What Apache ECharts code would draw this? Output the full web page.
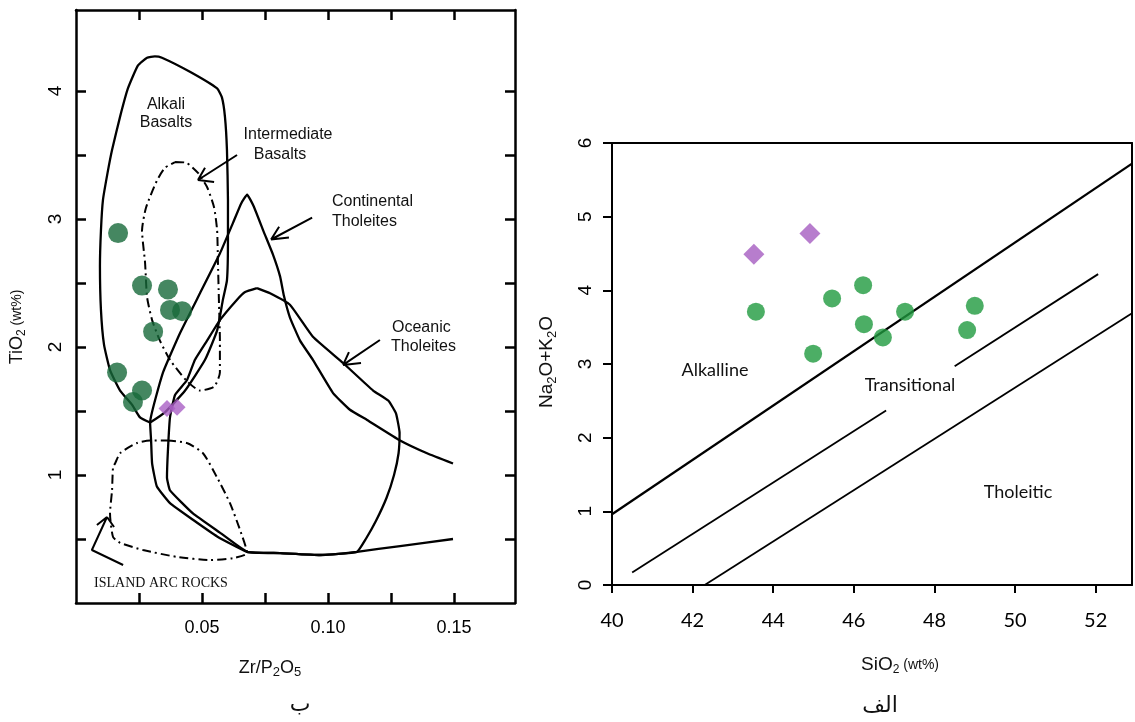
<!DOCTYPE html>
<html lang="fa">
<head>
<meta charset="UTF-8">
<title>TiO2 - Zr/P2O5 , Na2O+K2O - SiO2</title>
<script src="https://cdn.jsdelivr.net/npm/echarts@6/dist/echarts.min.js"></script>
<style>
  html, body { margin: 0; padding: 0; background: #fff; }
  #main { width: 1135px; height: 722px; }
</style>
</head>
<body>
<div id="main"></div>
<script>
// ---------- panel ب : TiO2 (wt%) vs Zr/P2O5 ----------
var alkaliBasalts = [
  [0.0294,1.41],[0.0254,1.45],[0.0222,1.55],[0.0175,1.66],[0.0135,1.82],[0.0111,2.02],
  [0.0099,2.29],[0.0095,2.63],[0.0099,2.91],[0.0107,3.15],[0.0127,3.38],[0.0143,3.54],
  [0.0175,3.80],[0.0206,4.02],[0.0246,4.20],[0.0282,4.26],[0.0313,4.27],[0.0341,4.26],
  [0.0452,4.15],[0.0560,4.02],[0.0579,3.95],[0.0591,3.80],[0.0599,3.54],[0.0603,3.15],
  [0.0603,2.84],[0.0599,2.52],[0.0583,2.37],[0.0560,2.13],[0.0512,1.90],[0.0433,1.66],
  [0.0353,1.49],[0.0294,1.41]
];
var continentalTholeiites = [
  [0.1496,1.09],[0.1393,1.17],[0.1286,1.27],[0.1155,1.43],[0.1087,1.51],[0.1020,1.64],
  [0.0940,1.90],[0.0889,2.05],[0.0849,2.23],[0.0825,2.40],[0.0810,2.55],[0.0782,2.72],
  [0.0745,2.90],[0.0705,3.10],[0.0679,3.19],[0.0655,3.12],[0.0623,2.97],[0.0571,2.73],
  [0.0492,2.42],[0.0413,2.11],[0.0345,1.80],[0.0294,1.41],[0.0298,1.27],[0.0302,1.09],
  [0.0321,0.91],[0.0373,0.78],[0.0464,0.65],[0.0560,0.52],[0.0679,0.40],[0.0810,0.39],
  [0.0968,0.375],[0.1115,0.40],[0.1286,0.445],[0.1496,0.50]
];
var oceanicTholeiites = [
  [0.0718,2.46],[0.0770,2.42],[0.0849,2.33],[0.0940,2.08],[0.1060,1.875],[0.1179,1.66],
  [0.1240,1.58],[0.1270,1.48],[0.1284,1.33],[0.1280,1.17],[0.1262,1.00],[0.1232,0.82],
  [0.1190,0.64],[0.1150,0.50],[0.1115,0.40],[0.0968,0.375],[0.0810,0.39],[0.0679,0.40],
  [0.0571,0.55],[0.0464,0.70],[0.0373,0.88],[0.0361,0.98],[0.0365,1.20],[0.0373,1.45],
  [0.0393,1.625],[0.0440,1.74],[0.0472,1.90],[0.0520,2.05],[0.0571,2.21],[0.0639,2.37],
  [0.0671,2.43],[0.0718,2.46]
];
var intermediateBasalts = [
  [0.0393,3.445],[0.0437,3.44],[0.0484,3.36],[0.0520,3.25],[0.0548,3.09],[0.0560,2.91],
  [0.0563,2.68],[0.0567,2.37],[0.0571,2.05],[0.0571,1.80],[0.0548,1.69],[0.0492,1.66],
  [0.0437,1.74],[0.0373,1.90],[0.0333,2.05],[0.0302,2.21],[0.0282,2.39],[0.0274,2.66],
  [0.0262,2.91],[0.0278,3.09],[0.0321,3.30],[0.0353,3.40],[0.0393,3.445]
];
var islandArcRocks = [
  [0.0361,1.27],[0.0440,1.25],[0.0504,1.17],[0.0560,0.98],[0.0611,0.78],[0.0651,0.57],
  [0.0679,0.39],[0.0623,0.35],[0.0532,0.336],[0.0401,0.36],[0.0266,0.414],[0.0175,0.47],
  [0.0147,0.516],[0.0135,0.70],[0.0143,0.88],[0.0147,1.06],[0.0155,1.09],[0.0175,1.17],
  [0.0242,1.25],[0.0294,1.27],[0.0361,1.27]
];
// label arrows (shaft + two barbs)
var arrowIntermediate = [[0.0639,3.50],[0.0484,3.305],[0.0548,3.29],null,[0.0484,3.305],[0.0512,3.40]];
var arrowContinental  = [[0.0937,3.01],[0.0774,2.84],[0.0845,2.855],null,[0.0774,2.84],[0.0806,2.94]];
var arrowOceanic      = [[0.1206,2.055],[0.1060,1.86],[0.1131,1.875],null,[0.1060,1.86],[0.1083,1.96]];
var arrowIslandArc    = [[0.0187,0.297],[0.0063,0.414],[0.0123,0.672],[0.0083,0.61],null,[0.0123,0.672],[0.0151,0.594]];

var zrGreen = [
  [0.0167,2.89],[0.0262,2.48],[0.0365,2.45],[0.0373,2.29],[0.0421,2.28],
  [0.0306,2.12],[0.0163,1.80],[0.0262,1.66],[0.0226,1.57]
];
var zrPurple = [[0.0361,1.52],[0.0401,1.53]];

var zrTicks   = [0.025, 0.05, 0.075, 0.10, 0.125, 0.15];
var zrLabels  = [0.05, 0.10, 0.15];
var tiTicks   = [0.5, 1, 1.5, 2, 2.5, 3, 3.5, 4];
var tiLabels  = [1, 2, 3, 4];

// ---------- panel الف : Na2O+K2O vs SiO2 ----------
var lineAlkaline     = [[40, 0.96], [52.9, 5.72]];
var lineMidLower     = [[40.5, 0.17], [46.8, 2.37]];
var lineMidUpper     = [[48.5, 2.97], [52.06, 4.22]];
var lineTholeiitic   = [[42.3, 0], [52.9, 3.69]];

var siGreen = [
  [43.57,3.71],[45.46,3.89],[46.23,4.07],[46.25,3.54],[46.72,3.36],
  [47.27,3.71],[44.99,3.14],[49.00,3.79],[48.81,3.46]
];
var siPurple = [[43.52,4.49],[44.91,4.77]];

var siTicks  = [40, 42, 44, 46, 48, 50, 52];
var alkTicks = [0, 1, 2, 3, 4, 5, 6];

var dom = document.getElementById('main');
var myChart = echarts.init(dom);

var sans = "'Liberation Sans', Arial, sans-serif";
var calib = "Lato, 'Open Sans', sans-serif";

function frameAxis(grid, pos, min, max, extra) {
  var a = {
    gridIndex: grid, type: 'value', position: pos, min: min, max: max,
    axisLine: { show: true, onZero: false, lineStyle: { color: '#000', width: grid === 0 ? 2.5 : 2 } },
    axisTick: { show: false },
    axisLabel: { show: false },
    splitLine: { show: false }
  };
  for (var k in extra) a[k] = extra[k];
  return a;
}

function poly(name, data, x, y, style, smooth) {
  return {
    name: name, type: 'line', xAxisIndex: x, yAxisIndex: y, data: data,
    symbol: 'none', smooth: smooth || false, connectNulls: false,
    lineStyle: style, silent: true, z: 3
  };
}

var solid = { color: '#000', width: 2.3 };
var dashDot = { color: '#000', width: 2, type: [9, 4, 2, 4] };
var thin = { color: '#000', width: 1.8 };

var leftTickIn = { show: true, inside: true, length: 10, lineStyle: { color: '#000', width: 2.5 } };

option = {
  animation: false,
  backgroundColor: '#fff',
  grid: [
    { left: 76, top: 10, width: 439, height: 593, outerBoundsMode: 'none' },
    { left: 612, top: 143, width: 520, height: 442, outerBoundsMode: 'none' }
  ],
  xAxis: [
    frameAxis(0, 'bottom', 0, 0.1742, {
      axisTick: Object.assign({ customValues: zrTicks }, leftTickIn),
      axisLabel: { show: true, customValues: zrLabels, margin: 16, fontSize: 18, fontFamily: sans, color: '#000',
        formatter: function (v) { return v.toFixed(2); } }
    }),
    frameAxis(0, 'top', 0, 0.1742, { axisTick: Object.assign({ customValues: zrTicks }, leftTickIn) }),
    frameAxis(1, 'bottom', 40, 52.9, {
      axisTick: { show: true, inside: false, length: 8, customValues: siTicks, lineStyle: { color: '#000', width: 2 } },
      axisLabel: { show: true, customValues: siTicks, margin: 26, fontSize: 20, fontFamily: calib, color: '#000' }
    }),
    frameAxis(1, 'top', 40, 52.9, {})
  ],
  yAxis: [
    frameAxis(0, 'left', 0, 4.633, {
      axisTick: Object.assign({ customValues: tiTicks }, leftTickIn),
      axisLabel: { show: true, customValues: tiLabels, rotate: 90, margin: 11, fontSize: 19, fontFamily: sans, color: '#000' }
    }),
    frameAxis(0, 'right', 0, 4.633, { axisTick: Object.assign({ customValues: tiTicks }, leftTickIn) }),
    frameAxis(1, 'left', 0, 6, {
      interval: 1,
      axisTick: { show: true, inside: false, length: 9, customValues: alkTicks, lineStyle: { color: '#000', width: 2 } },
      axisLabel: { show: true, customValues: alkTicks, rotate: 90, margin: 17, fontSize: 19, fontFamily: sans, color: '#000' }
    }),
    frameAxis(1, 'right', 0, 6, {})
  ],
  series: [
    poly('Alkali Basalts', alkaliBasalts, 0, 0, solid, 0.15),
    poly('Continental Tholeites', continentalTholeiites, 0, 0, solid, 0.12),
    poly('Oceanic Tholeites', oceanicTholeiites, 0, 0, solid, 0.12),
    poly('Intermediate Basalts', intermediateBasalts, 0, 0, dashDot, 0.2),
    poly('Island Arc Rocks', islandArcRocks, 0, 0, dashDot, 0.2),
    poly('a1', arrowIntermediate, 0, 0, { color: '#000', width: 2 }),
    poly('a2', arrowContinental, 0, 0, { color: '#000', width: 2 }),
    poly('a3', arrowOceanic, 0, 0, { color: '#000', width: 2 }),
    poly('a4', arrowIslandArc, 0, 0, { color: '#000', width: 2 }),
    { type: 'scatter', xAxisIndex: 0, yAxisIndex: 0, data: zrGreen, symbol: 'circle', symbolSize: 20,
      itemStyle: { color: '#17693a' }, z: 5 },
    { type: 'scatter', xAxisIndex: 0, yAxisIndex: 0, data: zrPurple, symbol: 'diamond', symbolSize: 17,
      itemStyle: { color: '#a95fc4' }, z: 5 },

    poly('Alkaline line', lineAlkaline, 2, 2, solid),
    poly('Transitional lower', lineMidLower, 2, 2, thin),
    poly('Transitional upper', lineMidUpper, 2, 2, thin),
    poly('Tholeiitic line', lineTholeiitic, 2, 2, thin),
    { type: 'scatter', xAxisIndex: 2, yAxisIndex: 2, data: siGreen, symbol: 'circle', symbolSize: 18,
      itemStyle: { color: '#1f9a3e' }, z: 5 },
    { type: 'scatter', xAxisIndex: 2, yAxisIndex: 2, data: siPurple, symbol: 'diamond', symbolSize: 21,
      itemStyle: { color: '#a55cc0' }, z: 5 }
  ],
  graphic: []
};

function txt(x, y, text, size, family, extra) {
  var g = {
    type: 'text', x: x, y: y, silent: true, z: 10,
    style: { text: text, fontSize: size, fontFamily: family, fill: '#111', align: 'center', verticalAlign: 'middle' }
  };
  for (var k in extra) {
    if (k === 'style') { for (var s in extra.style) g.style[s] = extra.style[s]; }
    else g[k] = extra[k];
  }
  return g;
}

var subRich = function (big, small) {
  return {
    b: { fontSize: big, fontFamily: sans, fill: '#111' },
    s: { fontSize: small, fontFamily: sans, fill: '#111', padding: [Math.round(big * 0.5), 0, 0, 0] },
    w: { fontSize: small + 2, fontFamily: sans, fill: '#111' }
  };
};

option.graphic = [
  // field labels, panel ب
  txt(166, 105, 'Alkali', 16, sans),
  txt(166, 123, 'Basalts', 16, sans),
  txt(288, 135, 'Intermediate', 16, sans),
  txt(280, 155, 'Basalts', 16, sans),
  txt(332, 202, 'Continental', 16, sans, { style: { align: 'left' } }),
  txt(332, 222, 'Tholeites', 16, sans, { style: { align: 'left' } }),
  txt(392, 328, 'Oceanic', 16, sans, { style: { align: 'left' } }),
  txt(391, 347, 'Tholeites', 16, sans, { style: { align: 'left' } }),
  txt(161, 583, 'ISLAND ARC ROCKS', 14, "'Liberation Serif', 'Times New Roman', serif"),
  // axis titles, panel ب
  txt(17, 327, '{b|TiO}{s|2}{w| (wt%)}', 18, sans, { rotation: Math.PI / 2, style: { rich: subRich(18, 12) } }),
  txt(270, 668, '{b|Zr/P}{s|2}{b|O}{s|5}', 18, sans, { style: { rich: subRich(18, 13) } }),
  txt(300, 705, 'ب', 22, "'DejaVu Sans', sans-serif"),
  // field labels, panel الف
  txt(715, 370, 'Alkalline', 18, calib),
  txt(910, 385, 'Transitional', 18, calib),
  txt(1018, 492, 'Tholeitic', 18, calib),
  // axis titles, panel الف
  txt(547, 362, '{b|Na}{s|2}{b|O+K}{s|2}{b|O}', 19, sans, { rotation: Math.PI / 2, style: { rich: subRich(19, 13) } }),
  txt(900, 665, '{b|SiO}{s|2}{w| (wt%)}', 19, sans, { style: { rich: subRich(19, 12) } }),
  txt(880, 706, 'الف', 22, "'DejaVu Sans', sans-serif")
];

if (option && typeof option === 'object') {
  myChart.setOption(option, true);
}
</script>
</body>
</html>
